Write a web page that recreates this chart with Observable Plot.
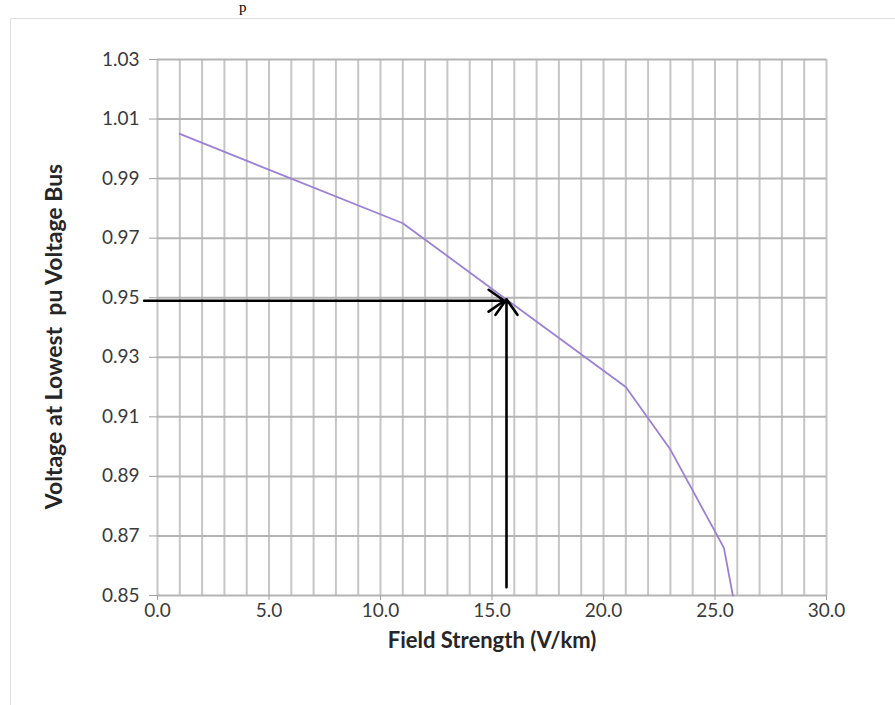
<!DOCTYPE html>
<html>
<head>
<meta charset="utf-8">
<script src="https://cdn.jsdelivr.net/npm/d3@7"></script>
<script src="https://cdn.jsdelivr.net/npm/@observablehq/plot@0.6"></script>
<style>
  html, body { margin: 0; padding: 0; background: #fff; }
  #wrap { position: relative; width: 895px; height: 705px; overflow: hidden; }
  #border { position: absolute; left: 10px; top: 18px; width: 900px; height: 700px; border: 1px solid #dedede; box-sizing: border-box; }
  #frag { position: absolute; left: 239px; top: 0px; font: 15px/15px "Liberation Serif", serif; color: #000; }
  #chart { position: absolute; left: 0; top: 0; }
  #chart svg text { font-size: 19px; fill: #3a3a3a; }
  #chart g[aria-label="x-axis label"] text { font-weight: bold; font-size: 22px; fill: #262626; }
  #chart g[aria-label="y-axis label"] text { font-weight: bold; font-size: 23px; fill: #262626; }
</style>
</head>
<body>
<div id="wrap">
  <div id="border"></div>
  <div id="frag">p</div>
  <div id="chart"></div>
</div>
<script>
// Curve: field strength (V/km) vs voltage at lowest pu voltage bus
const fieldStrength = [1.0, 11.0, 21.0, 23.0, 25.4, 25.8];
const voltage = [1.005, 0.975, 0.920, 0.899, 0.866, 0.850];

// Annotation arrows (start -> end)
const arrowX1 = [-0.6, 15.65];
const arrowY1 = [0.949, 0.8528];
const arrowX2 = [15.55, 15.65];
const arrowY2 = [0.949, 0.9495];

// Axis ticks and grid
const xTicks = [0, 5, 10, 15, 20, 25, 30];
const xGrid = d3.range(0, 31, 1);
const yTicks = [0.85, 0.87, 0.89, 0.91, 0.93, 0.95, 0.97, 0.99, 1.01, 1.03];

const curve = fieldStrength.map((x, i) => ({x, y: voltage[i]}));
const arrows = arrowX1.map((x1, i) => ({x1, y1: arrowY1[i], x2: arrowX2[i], y2: arrowY2[i]}));

const chart = Plot.plot({
  width: 895,
  height: 705,
  marginLeft: 157,
  marginRight: 69,
  marginTop: 59,
  marginBottom: 110,
  style: { fontFamily: "Lato, 'Open Sans', sans-serif", fontSize: "19px", color: "#3a3a3a", background: "transparent" },
  x: { domain: [0, 30] },
  y: { domain: [0.85, 1.03] },
  marks: [
    Plot.ruleX(xGrid, { stroke: "#c6c6c6", strokeWidth: 2 }),
    Plot.ruleY(yTicks, { stroke: "#b4b4b4", strokeWidth: 2 }),
    Plot.axisX({
      ticks: xTicks, tickFormat: d => d.toFixed(1), tickSize: 5, tickPadding: 3, fontSize: 19,
      stroke: "#a0a0a0", label: "Field Strength (V/km)", labelAnchor: "center", labelArrow: "none", labelOffset: 52
    }),
    Plot.axisY({
      ticks: yTicks, tickFormat: d => d.toFixed(2), tickSize: 8, tickPadding: 10, fontSize: 19,
      stroke: "#a0a0a0", label: "Voltage at Lowest  pu Voltage Bus", labelAnchor: "center", labelArrow: "none", labelOffset: 112
    }),
    Plot.line(curve, { x: "x", y: "y", stroke: "#9b80d6", strokeWidth: 1.8 }),
    Plot.arrow(arrows, { x1: "x1", y1: "y1", x2: "x2", y2: "y2", stroke: "#000", strokeWidth: 2.6, headLength: 11, headAngle: 70 })
  ]
});
chart.querySelectorAll('g[aria-label="y-axis label"] text').forEach(t => {
  t.style.whiteSpace = "pre";
  t.setAttribute("dx", "-9");
});
document.getElementById("chart").appendChild(chart);
</script>
</body>
</html>
